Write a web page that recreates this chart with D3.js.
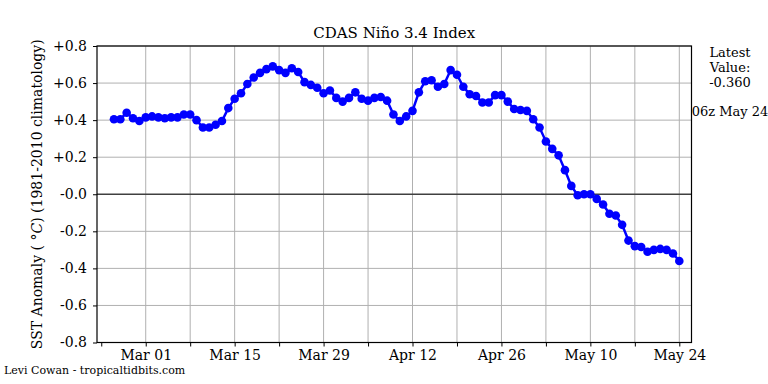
<!DOCTYPE html>
<html>
<head>
<meta charset="utf-8">
<script src="https://cdn.jsdelivr.net/npm/d3@7"></script>
<style>
  body { margin: 0; background: #fff; }
  text { font-family: "DejaVu Serif", serif; fill: #000; }
</style>
</head>
<body>
<div id="chart"></div>
<script>
// daily CDAS nino 3.4 values, first value is 24 Feb
var startDate = Date.UTC(2023, 1, 24);
var values = [
  0.405, 0.405, 0.44, 0.41, 0.395, 0.415, 0.42, 0.415, 0.41, 0.415,
  0.415, 0.43, 0.43, 0.40, 0.36, 0.36, 0.375, 0.395, 0.465, 0.515,
  0.545, 0.595, 0.63, 0.655, 0.675, 0.69, 0.67, 0.655, 0.68, 0.66,
  0.605, 0.59, 0.575, 0.545, 0.56, 0.52, 0.50, 0.52, 0.55, 0.515,
  0.505, 0.52, 0.525, 0.505, 0.43, 0.395, 0.42, 0.45, 0.55, 0.61,
  0.615, 0.58, 0.595, 0.67, 0.645, 0.58, 0.54, 0.53, 0.495, 0.495,
  0.535, 0.535, 0.50, 0.46, 0.455, 0.45, 0.405, 0.36, 0.285, 0.245,
  0.21, 0.13, 0.045, -0.005, 0.0, 0.0, -0.025, -0.055, -0.105, -0.115,
  -0.165, -0.25, -0.28, -0.285, -0.31, -0.30, -0.295, -0.30, -0.32, -0.36
];
var yTicks = [-0.8, -0.6, -0.4, -0.2, 0, 0.2, 0.4, 0.6, 0.8];
var latestLines = ["Latest", "Value:", "-0.360"];
var latestTime = "06z May 24";

var W = 768, H = 384;
var m = {left: 97, right: 691.5, top: 46, bottom: 342.5};
var DAY = 86400000;

var svg = d3.select("#chart").append("svg")
  .attr("width", W).attr("height", H);

var data = values.map(function(v, i){
  return {date: new Date(startDate + i * DAY), value: v};
});

var x = d3.scaleUtc()
  .domain([new Date(Date.UTC(2023, 2, 1) - 7.67 * DAY), new Date(Date.UTC(2023, 4, 24) + 1.92 * DAY)])
  .range([m.left, m.right]);
var y = d3.scaleLinear().domain([-0.8, 0.8]).range([m.bottom, m.top]);

// weekly ticks, every second one labelled (Mar 01, Mar 15, ...)
var weekTicks = d3.range(-7, 85, 7).map(function(k){
  return new Date(Date.UTC(2023, 2, 1) + k * DAY);
});
var fmt = d3.utcFormat("%b %d");

// grid
svg.append("g").selectAll("line")
  .data(weekTicks.slice(1))
  .enter().append("line")
  .attr("x1", function(d){ return x(d); }).attr("x2", function(d){ return x(d); })
  .attr("y1", m.top).attr("y2", m.bottom)
  .attr("stroke", "#b0b0b0").attr("stroke-width", 1);
svg.append("g").selectAll("line")
  .data(yTicks.filter(function(d){ return d != 0; }))
  .enter().append("line")
  .attr("x1", m.left).attr("x2", m.right)
  .attr("y1", function(d){ return y(d); }).attr("y2", function(d){ return y(d); })
  .attr("stroke", "#b0b0b0").attr("stroke-width", 1);
// zero line
svg.append("line")
  .attr("x1", m.left).attr("x2", m.right)
  .attr("y1", y(0)).attr("y2", y(0))
  .attr("stroke", "#404040").attr("stroke-width", 1.3);

// series
var line = d3.line()
  .x(function(d){ return x(d.date); })
  .y(function(d){ return y(d.value); });
svg.append("path").datum(data)
  .attr("d", line)
  .attr("fill", "none").attr("stroke", "#0000ff").attr("stroke-width", 2.5);
svg.append("g").selectAll("circle")
  .data(data).enter().append("circle")
  .attr("cx", function(d){ return x(d.date); })
  .attr("cy", function(d){ return y(d.value); })
  .attr("r", 4.3).attr("fill", "#0000ff");

// frame
svg.append("rect")
  .attr("x", m.left).attr("y", m.top)
  .attr("width", m.right - m.left).attr("height", m.bottom - m.top)
  .attr("fill", "none").attr("stroke", "#000").attr("stroke-width", 1.2);

// axes
var xAxis = d3.axisBottom(x).tickValues(weekTicks).tickSize(4).tickPadding(4)
  .tickFormat(function(d, i){ return i % 2 == 1 ? fmt(d) : ""; });
var gx = svg.append("g").attr("transform", "translate(0," + m.bottom + ")").call(xAxis);
gx.select(".domain").remove();
gx.selectAll("text").attr("font-size", 14).attr("font-family", "DejaVu Serif");

var yAxis = d3.axisLeft(y).tickValues(yTicks).tickSize(4).tickPadding(6)
  .tickFormat(function(d){ return (d > 0.0001 ? "+" : "-") + Math.abs(d).toFixed(1); });
var gy = svg.append("g").attr("transform", "translate(" + m.left + ",0)").call(yAxis);
gy.select(".domain").remove();
gy.selectAll("text").attr("font-size", 14).attr("font-family", "DejaVu Serif");

// titles
svg.append("text")
  .attr("x", (m.left + m.right) / 2).attr("y", 38)
  .attr("text-anchor", "middle").attr("font-size", 15)
  .text("CDAS Niño 3.4 Index");

var yl = svg.append("text")
  .attr("transform", "translate(42," + ((m.top + m.bottom) / 2) + ") rotate(-90)")
  .attr("text-anchor", "middle").attr("font-size", 14);
yl.append("tspan").text("SST Anomaly ( ");
yl.append("tspan").text("°");
yl.append("tspan").attr("font-style", "italic").text("C");
yl.append("tspan").text(") (1981-2010 climatology)");

svg.append("text")
  .attr("x", 4).attr("y", 374).attr("font-size", 11)
  .text("Levi Cowan - tropicaltidbits.com");

svg.append("g").selectAll("text")
  .data(latestLines).enter().append("text")
  .attr("x", 730).attr("y", function(d, i){ return 57 + i * 15; })
  .attr("text-anchor", "middle").attr("font-size", 13)
  .text(function(d){ return d; });
svg.append("text")
  .attr("x", 730).attr("y", 116)
  .attr("text-anchor", "middle").attr("font-size", 13)
  .text(latestTime);
</script>
</body>
</html>
